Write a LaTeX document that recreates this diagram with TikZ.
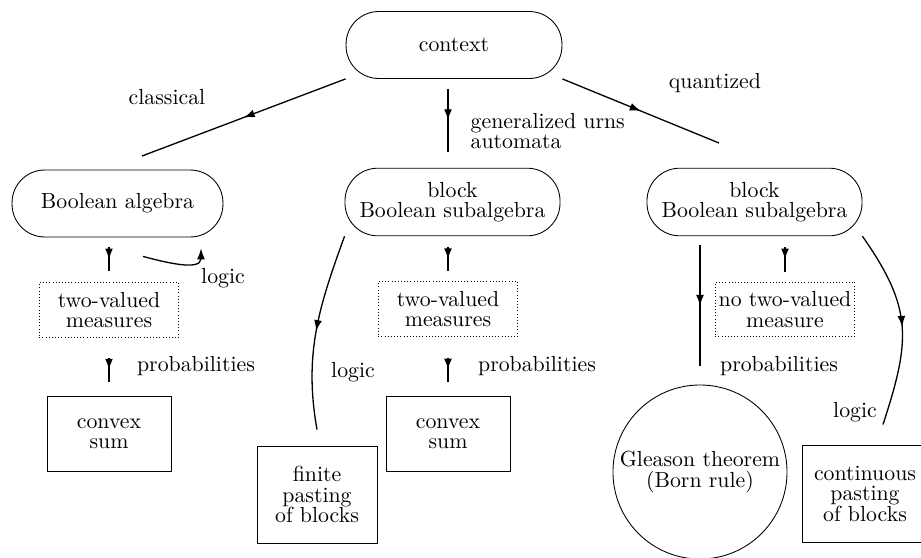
\documentclass[tikz,border=0pt]{standalone}
\usetikzlibrary{arrows.meta,decorations.markings}
\newcommand{\tightlines}{\fontsize{10}{9.4}\selectfont}
\tikzset{
	pill/.style={draw, rounded corners=15pt, minimum width=98.6pt, minimum height=31pt, align=center, font=\tightlines},
	dotbox/.style={draw, dash pattern=on 0.45pt off 1pt, inner sep=1pt, minimum width=64pt, minimum height=25pt, align=center, font=\tightlines},
	plainbox/.style={draw, align=center, font=\tightlines},
	midarrow/.style={line width=0.6pt, decoration={markings, mark=at position 0.5 with {\arrow{Latex[length=5pt,width=3.6pt]}}}, postaction={decorate}}
}
\begin{document}
\begin{tikzpicture}[x=0.4585pt, y=-0.4585pt]
	\useasboundingbox (0,0) rectangle (921,557);
	% top and the three blocks
	\node[pill, minimum width=99pt, minimum height=30.7pt] (context) at (454,45) {context};
	\node[pill, minimum width=96.7pt, minimum height=30.7pt] (boolean) at (117.5,203.5) {Boolean algebra};
	\node[pill] (midblock) at (452.5,202) {block\\Boolean subalgebra};
	\node[pill] (qblock) at (754.5,202) {block\\Boolean subalgebra};
	% measures
	\node[dotbox] (tv1) at (109,310) {two-valued\\measures};
	\node[dotbox] (tv2) at (448,309) {two-valued\\measures};
	\node[dotbox] (tv3) at (785,309.5) {no two-valued\\measure};
	% results
	\node[plainbox, minimum width=56.9pt, minimum height=34.4pt] (conv1) at (109,433.5) {convex\\sum};
	\node[plainbox, minimum width=56.9pt, minimum height=34.4pt] (conv2) at (448,433.5) {convex\\sum};
	\node[plainbox, minimum width=55pt, minimum height=44.5pt] (finite) at (317,494.5) {finite\\pasting\\of blocks};
	\node[draw, circle, minimum size=79.8pt, inner sep=0pt, align=center, font=\tightlines] (gleason) at (700,472) {Gleason theorem\\(Born rule)};
	\node[plainbox, minimum width=57.8pt, minimum height=44.5pt] (cont) at (865,493.5) {continuous\\pasting\\of blocks};
	% labels
	\node (classical) at (167,97) {classical};
	\node (quantized) at (715,83) {quantized};
	\node[anchor=west, align=left, font=\tightlines] (urns) at (463,131) {generalized urns\\automata};
	\node (logic1) at (223,278) {logic};
	\node (prob1) at (196,366) {probabilities};
	\node (logic2) at (353,372) {logic};
	\node (prob2) at (537,366) {probabilities};
	\node (prob3) at (779,366) {probabilities};
	\node (logic3) at (855,412) {logic};
	% connectors
	\coordinate (clend) at (142,156);
	\coordinate (quend) at (719,143);
	\draw[midarrow] (context.south west) -- (clend);
	\draw[midarrow] (context.south east) -- (quend);
	\draw[midarrow] ([yshift=-4.4pt]context.south -| tv2) -- ([yshift=7.3pt]midblock.north -| tv2);
	\draw[midarrow] ([yshift=-4.6pt]boolean.south -| tv1) -- ([yshift=5pt]tv1.north);
	\draw[midarrow] ([yshift=-9.2pt]tv1.south) -- ([yshift=6.4pt]conv1.north);
	\draw[midarrow] ([yshift=-5pt]midblock.south -| tv2) -- ([yshift=4.6pt]tv2.north);
	\draw[midarrow] ([yshift=-9.6pt]tv2.south) -- ([yshift=6.4pt]conv2.north);
	\draw[midarrow] ([yshift=-4.1pt]qblock.south -| gleason) -- ([yshift=8.3pt]gleason.north);
	\draw[midarrow] ([yshift=-5pt]qblock.south -| tv3) -- ([yshift=4.6pt]tv3.north);
	\draw[line width=0.6pt, -{Latex[length=5pt,width=3.6pt]}] ([shift={(25.5,19)}]boolean.south) to[out=-15, in=-90] ([shift={(83.5,11)}]boolean.south);
	\draw[midarrow] (midblock.south west) to[out=-110, in=100] ([yshift=7.3pt]finite.north);
	\draw[midarrow] (qblock.south east) to[out=-55, in=72, looseness=1.2] ([shift={(18,-20)}]cont.north);
\end{tikzpicture}
\end{document}
